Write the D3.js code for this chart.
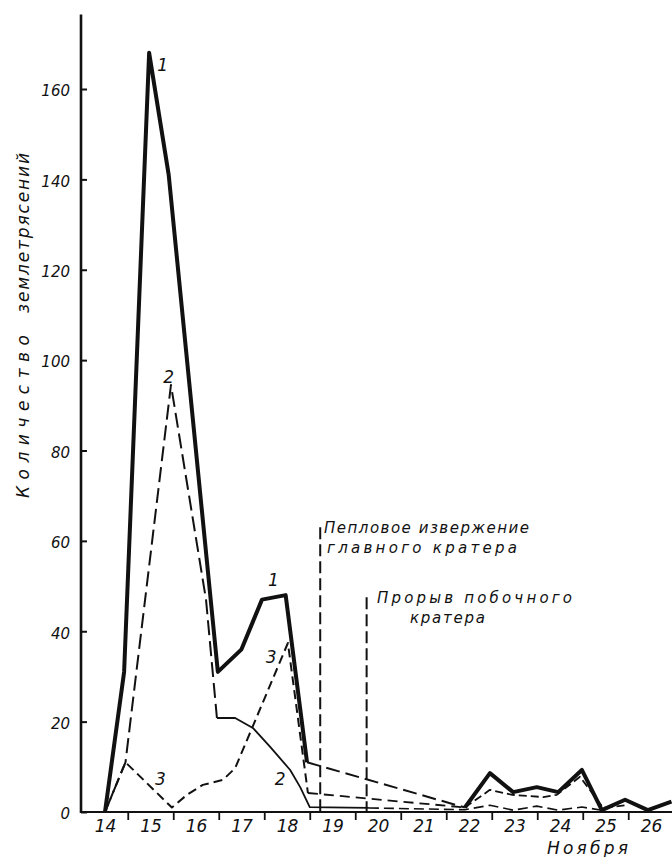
<!DOCTYPE html>
<html>
<head>
<meta charset="utf-8">
<script src="https://cdn.jsdelivr.net/npm/d3@7"></script>
<style>
  body { margin: 0; background: #fff; }
  svg { display: block; }
  text { font-family: "DejaVu Sans", sans-serif; font-style: italic; fill: #111; }
</style>
</head>
<body>
<script>
// ================================
// DATA (days of November, number of earthquakes)
// ================================

// x ticks / labels
var dayLabels = [14, 15, 16, 17, 18, 19, 20, 21, 22, 23, 24, 25, 26];
var dayTicks = [14.5, 15.5, 16.5, 17.5, 18.5, 19.5, 20.5, 21.5, 22.5, 23.5, 24.5, 25.5];
var countTicks = [0, 20, 40, 60, 80, 100, 120, 140, 160];

// curve 1 (thick)
var s1Days = [14, 14.42, 14.97, 15.4, 16.48, 17.0, 17.45, 17.97, 18.44];
var s1Vals = [0, 31, 168, 141, 31, 36, 47, 48, 11];
var s1GapDays = [18.44, 21.91];
var s1GapVals = [11, 1];
var s1LateDays = [21.91, 22.46, 22.97, 23.49, 23.96, 24.48, 24.92, 25.43, 25.93, 26.45];
var s1LateVals = [1, 8.6, 4.4, 5.5, 4.4, 9.3, 0.4, 2.7, 0.4, 2.3];

// curve 2
var s2Days = [14, 14.45, 15.45, 16.22, 16.46];
var s2Vals = [0, 11, 94.5, 47, 20.8];
var s2MidDays = [16.46, 16.86, 17.25, 17.63, 18.07, 18.29, 18.5, 19.8];
var s2MidVals = [20.8, 20.8, 18.6, 14.4, 9.3, 5.5, 1.1, 0.9];
var s2LateDays = [19.8, 21.91, 22.46, 22.97, 23.49, 23.96, 24.48, 24.92];
var s2LateVals = [0.9, 0.5, 1.5, 0.4, 1.3, 0.4, 1.1, 0.4];

// curve 3
var s3Days = [14, 14.45, 15.47, 15.8, 16.15, 16.59, 16.86, 18.02, 18.46];
var s3Vals = [0, 11, 1, 3.8, 6, 7.1, 9.7, 37.4, 4.2];
var s3GapDays = [18.46, 21.91];
var s3GapVals = [4.2, 1];
var s3LateDays = [21.91, 22.46, 22.95, 23.63, 23.93, 24.44, 24.95, 25.43];
var s3LateVals = [1, 4.9, 3.8, 3.3, 3.8, 7.8, 0.9, 1.5];

// event markers: [day, top value]
var eventDays = [18.73, 19.75];
var eventTops = [63, 47.5];

// curve number labels
var numText = ["1", "1", "2", "2", "3", "3"];
var numDays = [15.27, 17.7, 15.4, 17.85, 17.65, 15.22];
var numVals = [164, 50, 95, 6, 33, 6];

// ================================
// SETUP
// ================================
var width = 672, height = 857;
var fontFam = "'DejaVu Sans', sans-serif";

var svg = d3.select("body").append("svg")
    .attr("width", width)
    .attr("height", height);

svg.append("rect").attr("width", width).attr("height", height).attr("fill", "#fff");

var x = d3.scaleLinear().domain([14, 26]).range([105, 651]);
var y = d3.scaleLinear().domain([0, 160]).range([812, 89]);

var axisX = 81;

// ================================
// AXES
// ================================
// y axis line
svg.append("line")
    .attr("x1", axisX).attr("x2", axisX)
    .attr("y1", y(176.5)).attr("y2", y(0) + 1)
    .attr("stroke", "#111").attr("stroke-width", 2.6);

// x axis line
svg.append("line")
    .attr("x1", axisX).attr("x2", width)
    .attr("y1", y(0)).attr("y2", y(0))
    .attr("stroke", "#111").attr("stroke-width", 2.2);

var yAxis = svg.append("g")
    .attr("transform", "translate(" + axisX + ",0)")
    .call(d3.axisLeft(y).tickValues(countTicks).tickSize(-6).tickPadding(11));
yAxis.select(".domain").remove();
yAxis.selectAll("line").attr("stroke", "#111").attr("stroke-width", 2);
yAxis.selectAll("text")
    .attr("dy", "0.45em")
    .style("font-size", "15px")
    .style("font-family", fontFam)
    .style("font-style", "italic")
    .attr("fill", "#111");

var xTickAxis = svg.append("g")
    .attr("transform", "translate(0," + y(0) + ")")
    .call(d3.axisBottom(x).tickValues(dayTicks).tickSize(8).tickFormat(""));
xTickAxis.select(".domain").remove();
xTickAxis.selectAll("line").attr("stroke", "#111").attr("stroke-width", 1.8);

var xLabelAxis = svg.append("g")
    .attr("transform", "translate(0," + y(0) + ")")
    .call(d3.axisBottom(x).tickValues(dayLabels).tickSize(0).tickPadding(8));
xLabelAxis.select(".domain").remove();
xLabelAxis.selectAll("text")
    .attr("dy", "0.71em")
    .style("font-size", "17px")
    .style("font-family", fontFam)
    .style("font-style", "italic")
    .attr("fill", "#111");

// axis titles
svg.append("text")
    .attr("transform", "translate(29," + 498 + ") rotate(-90)")
    .attr("textLength", 163).attr("lengthAdjust", "spacing")
    .style("font-size", "17px")
    .text("Количество");

svg.append("text")
    .attr("transform", "translate(29," + 313 + ") rotate(-90)")
    .attr("textLength", 160).attr("lengthAdjust", "spacing")
    .style("font-size", "17px")
    .text("землетрясений");

svg.append("text")
    .attr("x", 547).attr("y", 854)
    .attr("textLength", 81).attr("lengthAdjust", "spacing")
    .style("font-size", "17px")
    .text("Ноября");

// ================================
// EVENT MARKERS
// ================================
eventDays.forEach(function(d, i){
    svg.append("line")
        .attr("x1", x(d)).attr("x2", x(d))
        .attr("y1", y(eventTops[i])).attr("y2", y(0))
        .attr("stroke", "#111").attr("stroke-width", 2)
        .attr("stroke-dasharray", "12,5");
});

svg.append("text").attr("x", 324).attr("y", 533)
    .attr("textLength", 205).attr("lengthAdjust", "spacing")
    .style("font-size", "15px").text("Пепловое извержение");
svg.append("text").attr("x", 327).attr("y", 553)
    .attr("textLength", 190).attr("lengthAdjust", "spacing")
    .style("font-size", "15px").text("главного кратера");
svg.append("text").attr("x", 377).attr("y", 603)
    .attr("textLength", 195).attr("lengthAdjust", "spacing")
    .style("font-size", "15px").text("Прорыв побочного");
svg.append("text").attr("x", 410).attr("y", 623)
    .attr("textLength", 75).attr("lengthAdjust", "spacing")
    .style("font-size", "15px").text("кратера");

// ================================
// CURVES
// ================================
var line = d3.line()
    .x(function(d){ return x(d[0]); })
    .y(function(d){ return y(d[1]); });

function drawPiece(days, vals, w, dash){
    var pts = days.map(function(d, i){ return [d, vals[i]]; });
    svg.append("path")
        .datum(pts)
        .attr("d", line)
        .attr("fill", "none")
        .attr("stroke", "#111")
        .attr("stroke-width", w)
        .attr("stroke-linejoin", "round")
        .attr("stroke-dasharray", dash);
}

// curve 3
drawPiece(s3Days, s3Vals, 2, "9,5");
drawPiece(s3GapDays, s3GapVals, 1.8, "10,6");
drawPiece(s3LateDays, s3LateVals, 1.8, "8,4");

// curve 2
drawPiece(s2Days, s2Vals, 2, "15,6");
drawPiece(s2MidDays, s2MidVals, 1.8, null);
drawPiece(s2LateDays, s2LateVals, 1.6, "10,5");

// curve 1
drawPiece(s1Days, s1Vals, 4, null);
drawPiece(s1GapDays, s1GapVals, 2, "14,6");
drawPiece(s1LateDays, s1LateVals, 4, null);

// curve numbers
numText.forEach(function(t, i){
    svg.append("text")
        .attr("x", x(numDays[i]))
        .attr("y", y(numVals[i]))
        .attr("text-anchor", "middle")
        .style("font-size", "17px")
        .text(t);
});
</script>
</body>
</html>
